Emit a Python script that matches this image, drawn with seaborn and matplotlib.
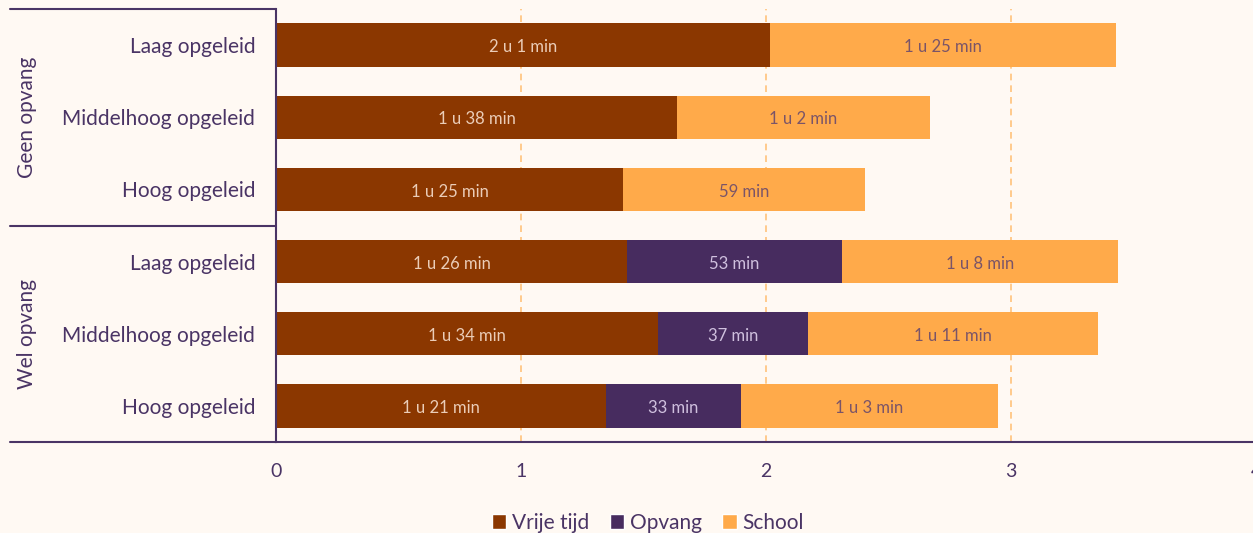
import matplotlib
matplotlib.use("Agg")
import matplotlib.pyplot as plt
import seaborn as sns
import pandas as pd
import numpy as np
from matplotlib.patches import Patch

# data (minutes per day)
groups = ["Geen opvang", "Wel opvang"]
levels = ["Laag opgeleid", "Middelhoog opgeleid", "Hoog opgeleid"]
vrije_tijd = [121.0, 98.2, 85.0, 86.0, 93.6, 80.8]
opvang = [0, 0, 0, 52.6, 36.6, 33.1]
school = [84.7, 62.0, 59.3, 67.6, 71.0, 62.9]

series = ["Vrije tijd", "Opvang", "School"]
colors = ["#8B3700", "#472C5F", "#FFAA4A"]
label_colors = ["#EBCDB8", "#CFC0DE", "#7A5468"]
text_col = "#4A3465"
bg = "#FFF9F3"

rows = [f"{g}|{l}" for g in groups for l in levels]
df = pd.DataFrame({"row": rows, "Vrije tijd": vrije_tijd,
                   "Opvang": opvang, "School": school})
for s in series:
    df[s + "_h"] = df[s] / 60
df["cum1"] = df["Vrije tijd_h"]
df["cum2"] = df["cum1"] + df["Opvang_h"]
df["cum3"] = df["cum2"] + df["School_h"]

sns.set_style("white")
plt.rcParams["font.family"] = ["Lato", "DejaVu Sans"]

fig = plt.figure(figsize=(12.53, 5.33), dpi=100, facecolor=bg)
ax = fig.add_axes([276 / 1253, 91 / 533, 980 / 1253, 433 / 533])
ax.set_facecolor(bg)

for x in [1, 2, 3]:
    ax.axvline(x, color="#FFC27A", lw=1.2, ls=(0, (4, 3)), zorder=0)

# stacked by overdrawing cumulative totals
for col, c in zip(["cum3", "cum2", "cum1"], colors[::-1]):
    sns.barplot(data=df, x=col, y="row", color=c, orient="h", width=0.6,
                saturation=1, ax=ax, zorder=2, linewidth=0, edgecolor="none")

# segment labels
def fmt(m):
    h, mm = divmod(int(round(m)), 60)
    return f"{h} u {mm} min" if h else f"{mm} min"

starts = [np.zeros(6), df["cum1"].values, df["cum2"].values]
for s, st, lc in zip(series, starts, label_colors):
    for i, m in enumerate(df[s]):
        if m > 0:
            ax.text(st[i] + m / 120, i + 0.03, fmt(m), ha="center", va="center",
                    color=lc, fontsize=12, zorder=5)

ax.set_xlim(0, 4)
ax.set_ylim(5.5, -0.5)
ax.set_xticks([0, 1, 2, 3, 4])
ax.set_xticklabels(["0", "1", "2", "3", "4"])
ax.set_yticks(range(6))
ax.set_yticklabels(levels * 2)
ax.tick_params(axis="both", length=0, colors=text_col, labelsize=15)
ax.tick_params(axis="x", pad=15, labelsize=14)
ax.tick_params(axis="y", pad=15)
ax.set_xlabel("")
ax.set_ylabel("")

for sp in ["top", "right"]:
    ax.spines[sp].set_visible(False)
for sp in ["left", "bottom"]:
    ax.spines[sp].set_color(text_col)
    ax.spines[sp].set_linewidth(1.5)

# group brackets on the left
tr = ax.get_yaxis_transform()
x0 = (10 - 276) / 980
for yv in [-0.5, 2.5, 5.5]:
    ax.plot([x0, 0], [yv, yv], color=text_col, lw=1.5, transform=tr, clip_on=False)
for g, yc in zip(groups, [1, 4]):
    ax.text((27 - 276) / 980, yc, g, rotation=90, ha="center", va="center",
            transform=tr, color=text_col, fontsize=15)

handles = [Patch(facecolor=c, label=s) for s, c in zip(series, colors)]
fig.legend(handles=handles, loc="lower center", bbox_to_anchor=(0.517, -0.035),
           ncol=3, frameon=False, handlelength=0.7, handleheight=0.7,
           handletextpad=0.25, columnspacing=1.0, fontsize=15,
           labelcolor=text_col)

fig.savefig("out.png", dpi=100, facecolor=bg)
